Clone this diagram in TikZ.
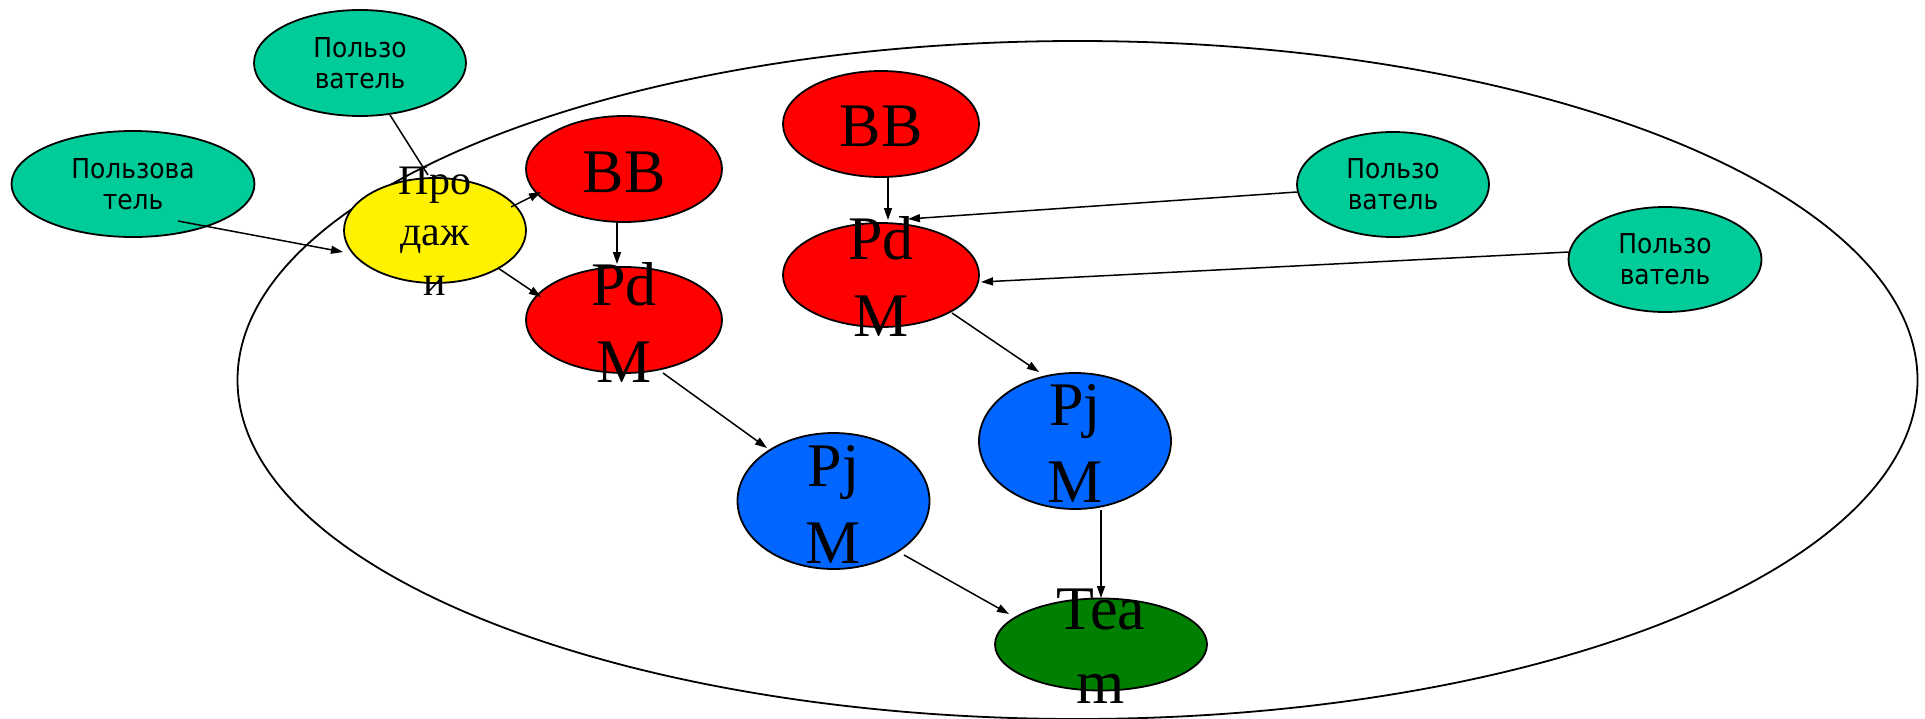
\documentclass[tikz,border=0pt]{standalone}
\usepackage{fontspec}
\usetikzlibrary{arrows.meta,shapes.geometric}
\newfontfamily\usrfont[FakeStretch=0.91]{DejaVu Sans}
\newfontfamily\serfont{Liberation Serif}
\definecolor{usrgreen}{RGB}{0,204,153}
\definecolor{pjblue}{RGB}{0,102,255}
\definecolor{teamgreen}{RGB}{0,128,0}
\tikzset{
  ell/.style={draw=black, line width=1.8pt, ellipse, inner sep=0pt},
  usr/.style={ell, fill=usrgreen},
  rednode/.style={ell, fill=red},
  bluenode/.style={ell, fill=pjblue},
  yelnode/.style={ell, fill=yellow},
  teamnode/.style={ell, fill=teamgreen},
  utext/.style={anchor=base, inner sep=0pt, font=\usrfont\fontsize{27.4}{31}\selectfont},
  stext/.style={anchor=base, inner sep=0pt, font=\serfont\fontsize{62}{77}\selectfont},
  ptext/.style={anchor=base, inner sep=0pt, font=\serfont\fontsize{42}{50}\selectfont},
  conn/.style={line width=1.5pt, -{Triangle[length=12pt,width=8pt]}},
  plain/.style={line width=1.5pt}
}
\begin{document}
\begin{tikzpicture}[x=1pt, y=-1pt]
\useasboundingbox[fill=white] (0,0) rectangle (1925,718);
% big ellipse
\draw[line width=1.8pt] (1077.5,380) ellipse [x radius=840, y radius=339];
% nodes
\node[usr, minimum width=212, minimum height=106] (tu) at (360,63) {};
\node[usr, minimum width=243, minimum height=106] (lu) at (133,184) {};
\node[yelnode, minimum width=182, minimum height=105] (pr) at (435,230.5) {};
\node[rednode, minimum width=196, minimum height=106] (bbl) at (624,169) {};
\node[rednode, minimum width=196, minimum height=106] (pdl) at (624,320) {};
\node[rednode, minimum width=196, minimum height=106] (bbr) at (881,124) {};
\node[rednode, minimum width=196, minimum height=104] (pdr) at (881,275) {};
\node[usr, minimum width=192, minimum height=105] (ru1) at (1393,184.5) {};
\node[usr, minimum width=193, minimum height=105] (ru2) at (1665,259.5) {};
\node[bluenode, minimum width=192, minimum height=136] (pjl) at (833.5,501) {};
\node[bluenode, minimum width=192, minimum height=136] (pjr) at (1075,441) {};
\node[teamnode, minimum width=212, minimum height=92] (tm) at (1101,644.5) {};
% connectors
\draw[plain] ([shift={(30,52)}]tu.center) -- ([shift={(-7,-55.5)}]pr.center);
\draw[conn] ([shift={(45,37)}]lu.center) -- ([shift={(-92,21.5)}]pr.center);
\draw[conn] ([shift={(76,-23.5)}]pr.center) -- ([shift={(-83,23)}]bbl.center);
\draw[conn] ([shift={(63,37.5)}]pr.center) -- ([shift={(-83,-23)}]pdl.center);
\draw[conn] ([shift={(-7,53)}]bbl.center) -- ([shift={(-7,-56)}]pdl.center);
\draw[conn] ([shift={(7,53)}]bbr.center) -- ([shift={(7,-55)}]pdr.center);
\draw[conn] ([shift={(-96,7.5)}]ru1.center) -- ([shift={(27,-56)}]pdr.center);
\draw[conn] ([shift={(-96,-7.5)}]ru2.center) -- ([shift={(100,7)}]pdr.center);
\draw[conn] ([shift={(71,38)}]pdr.center) -- ([shift={(-36,-69)}]pjr.center);
\draw[conn] ([shift={(39,53)}]pdl.center) -- ([shift={(-66.5,-53)}]pjl.center);
\draw[conn] ([shift={(70.5,54)}]pjl.center) -- ([shift={(-92,-30.5)}]tm.center);
\draw[conn] ([shift={(26,69)}]pjr.center) -- ([shift={(0,-46.5)}]tm.center);
% texts
\node[utext] (tu1) at ([shift={(0,-6)}]tu.center) {Пользо};
\node[utext] (tu2) at ([shift={(0,25)}]tu.center) {ватель};
\node[utext] (lu1) at ([shift={(0,-6)}]lu.center) {Пользова};
\node[utext] (lu2) at ([shift={(0,25)}]lu.center) {тель};
\node[utext] (ru11) at ([shift={(0,-6.5)}]ru1.center) {Пользо};
\node[utext] (ru12) at ([shift={(0,24.5)}]ru1.center) {ватель};
\node[utext] (ru21) at ([shift={(0,-6.5)}]ru2.center) {Пользо};
\node[utext] (ru22) at ([shift={(0,24.5)}]ru2.center) {ватель};
\node[ptext] (pr1) at ([shift={(0,-36.5)}]pr.center) {Про};
\node[ptext] (pr2) at ([shift={(0,14.5)}]pr.center) {даж};
\node[ptext] (pr3) at ([shift={(0,64.5)}]pr.center) {и};
\node[stext] (bbl1) at ([shift={(0,23)}]bbl.center) {BB};
\node[stext] (bbr1) at ([shift={(0,22)}]bbr.center) {BB};
\node[stext] (pdl1) at ([shift={(0,-15)}]pdl.center) {Pd};
\node[stext] (pdl2) at ([shift={(0,62)}]pdl.center) {M};
\node[stext] (pdr1) at ([shift={(0,-16)}]pdr.center) {Pd};
\node[stext] (pdr2) at ([shift={(0,61)}]pdr.center) {M};
\node[stext] (pjl1) at ([shift={(0,-15)}]pjl.center) {Pj};
\node[stext] (pjl2) at ([shift={(0,62)}]pjl.center) {M};
\node[stext] (pjr1) at ([shift={(0,-16)}]pjr.center) {Pj};
\node[stext] (pjr2) at ([shift={(0,61)}]pjr.center) {M};
\node[stext] (tm1) at ([shift={(0,-15.5)}]tm.center) {Tea};
\node[stext] (tm2) at ([shift={(0,59)}]tm.center) {m};
\end{tikzpicture}
\end{document}
